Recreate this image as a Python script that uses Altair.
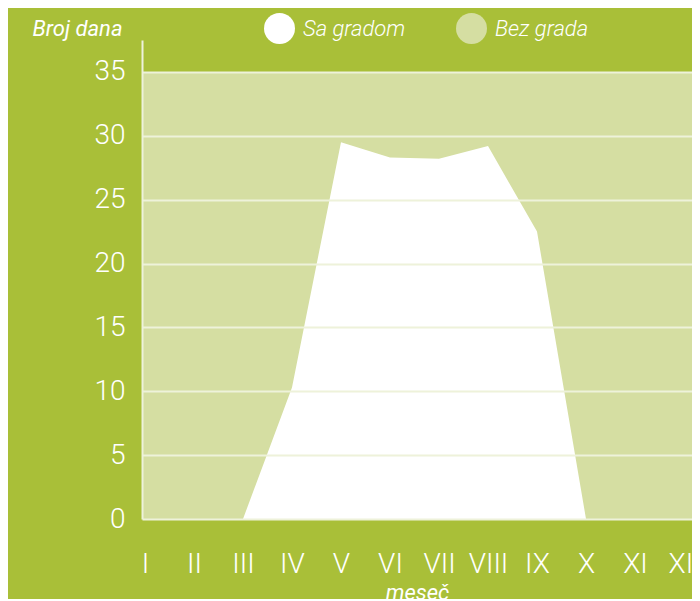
import json
import altair as alt
import pandas as pd

# ---- data ----
month_labels = ["I", "II", "III", "IV", "V", "VI", "VII", "VIII", "IX", "X", "XI", "XII"]
hail_months = [3, 4, 5, 6, 7, 8, 9, 10]
hail_days = [0, 10.3, 29.5, 28.3, 28.2, 29.2, 22.5, 0]
y_ticks = [0, 5, 10, 15, 20, 25, 30, 35]
series = ["Sa gradom", "Bez grada"]

BG = "#a9bf38"
PANEL = "#d5dea2"
GRID = "#eef2da"
FONT = "Roboto"

x_domain = [0.939, 12.163]
y_domain = [0, 37.5]

hail = pd.DataFrame({"m": hail_months, "v": hail_days, "s": series[0]})
panel = pd.DataFrame({"x": [x_domain[0]], "x2": [x_domain[1]],
                      "y": [y_ticks[0]], "y2": [y_ticks[-1]], "s": [series[1]]})

color = alt.Color(
    "s:N",
    scale=alt.Scale(domain=series, range=["#ffffff", PANEL]),
    legend=alt.Legend(
        orient="none", legendX=122, legendY=-27, direction="horizontal",
        title=None, symbolType="circle", symbolSize=960, symbolStrokeWidth=0,
        symbolOpacity=1, labelFontSize=22, labelFontStyle="italic",
        labelColor="white", labelFont=FONT, labelFontWeight=300,
        labelOffset=8, columnPadding=50,
    ),
)

xscale = alt.Scale(domain=x_domain, nice=False, zero=False)
yscale = alt.Scale(domain=y_domain, nice=False)

label_expr = json.dumps(month_labels) + "[datum.value - 1]"

x_axis = alt.Axis(
    values=list(range(1, 13)), labelExpr=label_expr, grid=False, ticks=False,
    domain=False, labelFontSize=28, labelColor="white", labelFont=FONT,
    labelFontWeight=300, labelPadding=31, labelBound=False, labelOverlap=False,
    title="meseč", titleFontStyle="italic",
    titleFontWeight="normal", titleFontSize=22, titleColor="white",
    titleFont=FONT, titlePadding=4,
)
y_axis = alt.Axis(
    values=y_ticks, grid=True, gridColor=GRID, gridWidth=2, ticks=False,
    domain=True, domainColor=GRID, domainWidth=2, labelFontSize=28,
    labelColor="white", labelFont=FONT, labelFontWeight=300, labelPadding=17,
    title="Broj dana", titleAngle=0, titleX=-20, titleY=-12, titleAlign="right",
    titleBaseline="middle", titleFontStyle="italic", titleFontWeight="normal",
    titleFontSize=22, titleColor="white", titleFont=FONT, zindex=1,
)

bg_rect = alt.Chart(panel).mark_rect().encode(
    x=alt.X("x:Q", scale=xscale, axis=x_axis),
    x2="x2",
    y=alt.Y("y:Q", scale=yscale, axis=y_axis),
    y2="y2",
    color=color,
)

area = alt.Chart(hail).mark_area(interpolate="linear", opacity=1).encode(
    x=alt.X("m:Q", scale=xscale),
    y=alt.Y("v:Q", scale=yscale),
    color=color,
)

chart = alt.layer(bg_rect, area).properties(
    width=550, height=479,
    autosize=alt.AutoSizeParams(type="none"),
    padding={"left": 134, "top": 32, "right": 0, "bottom": 80},
    background=BG,
).configure_view(stroke=None)

chart.save("out.html", embed_options={"renderer": "svg", "actions": False})
